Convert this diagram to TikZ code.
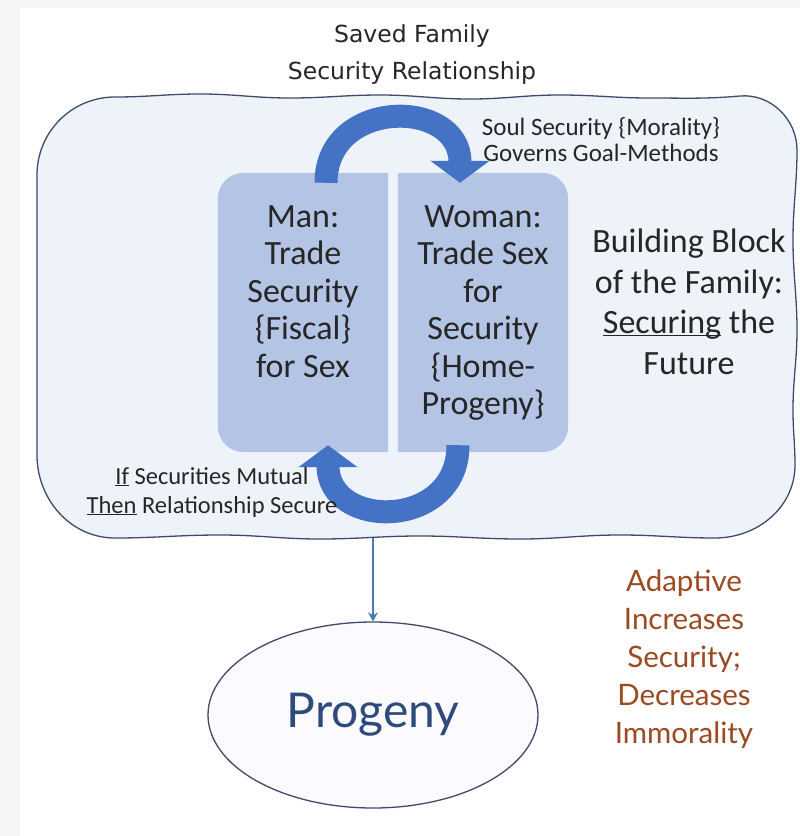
\documentclass[tikz,border=0pt]{standalone}
\usepackage{fontspec}
\setmainfont{Carlito}
\newfontfamily\gillfont{Lato}
\newfontfamily\comicfont{DejaVu Sans}
\usetikzlibrary{arrows.meta,shapes.geometric}

\definecolor{cloudfill}{HTML}{EEF2F9}
\definecolor{cloudline}{HTML}{3E4B6B}
\definecolor{boxfill}{HTML}{B4C4E4}
\definecolor{arcblue}{HTML}{4472C4}
\definecolor{progblue}{HTML}{2F4B7C}
\definecolor{rust}{HTML}{9C4A22}
\definecolor{textgray}{HTML}{262626}
\definecolor{linkblue}{HTML}{4A79B5}

\newcommand{\undl}[1]{\underline{\smash{#1}}}

\tikzset{
  boxtext/.style={align=center, inner sep=0pt, text=textgray, font=\fontsize{34}{37.5}\selectfont},
  sidetext/.style={align=center, inner sep=0pt, text=textgray, font=\fontsize{34}{40.5}\selectfont},
  bigarc/.style={arcblue, line width=23pt, -{Triangle[width=58pt,length=22pt]}},
  linkarrow/.style={linkblue, line width=2pt, -{Stealth[length=9pt,width=10pt]}}
}

\begin{document}
\begin{tikzpicture}[x=1pt,y=-1pt]
  \useasboundingbox (0,0) rectangle (800,836);
  \fill[gray!8] (0,0) rectangle (800,836);
  \fill[white] (20,8) rectangle (800,836);

  % title
  \node[align=center, inner sep=0pt, anchor=north, text=textgray,
        font=\comicfont\fontsize{23.5}{37}\selectfont] (title) at (412,24)
        {Saved Family\\Security Relationship};

  % wavy frame
  \draw[cloudline, fill=cloudfill, line width=1.3pt]
    (37,175) to[out=90,in=180] (115,97)
    to[out=0,in=180] (200,94) to[out=0,in=180] (290,98) to[out=0,in=180] (380,95)
    to[out=0,in=180] (470,99) to[out=0,in=180] (560,95) to[out=0,in=180] (650,98)
    to[out=0,in=185] (740,96) to[out=5,in=90] (797,150)
    to[out=-90,in=90] (793,240) to[out=-90,in=90] (797,330) to[out=-90,in=90] (793,410)
    to[out=-90,in=90] (795,465) to[out=-90,in=0] (715,538)
    to[out=180,in=0] (620,535) to[out=180,in=0] (520,539) to[out=180,in=0] (420,536)
    to[out=180,in=0] (320,539) to[out=180,in=0] (220,535) to[out=180,in=0] (115,538)
    to[out=180,in=-90] (37,455) -- cycle;
  \coordinate (cloudbot) at (373,538);

  % the two boxes
  \node[minimum width=170pt, minimum height=279pt, inner sep=0pt] (man) at (303,312.5) {};
  \node[minimum width=170pt, minimum height=279pt, inner sep=0pt] (woman) at (483,312.5) {};
  \fill[boxfill] (man.north east) [rounded corners=26pt] -- (man.north west)
    -- (man.south west) [sharp corners] -- (man.south east) -- cycle;
  \fill[boxfill] (woman.north west) [rounded corners=26pt] -- (woman.north east)
    -- (woman.south east) [sharp corners] -- (woman.south west) -- cycle;
  \node[boxtext, anchor=north] (mantext) at (303,205)
    {Man:\\Trade\\Security\\\{Fiscal\}\\for Sex};
  \node[boxtext, anchor=north] (womantext) at (483,205)
    {Woman:\\Trade Sex\\for\\Security\\\{Home-\\Progeny\}};

  % arcs
  \draw[bigarc] ([xshift=23pt,yshift=-10pt]man.north) .. controls +(0,-85) and +(0,-85)
    .. ([xshift=-23pt,yshift=-10pt]woman.north);
  \draw[bigarc] ([xshift=-25pt,yshift=7pt]woman.south) .. controls +(0,85) and +(0,85)
    .. ([xshift=25pt,yshift=7pt]man.south);

  \node[align=center, inner sep=0pt, anchor=north, text=textgray,
        font=\fontsize{25}{26}\selectfont] (soul) at (601,117)
    {Soul Security \{Morality\}\\Governs Goal-Methods};
  \node[align=center, inner sep=0pt, anchor=north, text=textgray,
        font=\fontsize{24.5}{29}\selectfont] (ifthen) at (212,467)
    {\undl{If} Securities Mutual\\\undl{Then} Relationship Secure};
  \node[sidetext, anchor=north] (block) at (689,229)
    {Building Block\\of the Family:\\\undl{Securing} the\\Future};

  % progeny
  \node[ellipse, draw=cloudline, line width=1.3pt, fill=blue!2, minimum width=330pt,
        minimum height=186pt, text=progblue, font=\gillfont\fontsize{48}{56}\selectfont]
        (progeny) at (373,715) {Progeny};
  \draw[linkarrow] (cloudbot) -- (progeny.north);

  \node[align=center, inner sep=0pt, anchor=north, text=rust,
        font=\gillfont\fontsize{29.5}{38}\selectfont] (adaptive) at (684,570)
        {Adaptive\\Increases\\Security;\\Decreases\\Immorality};
\end{tikzpicture}
\end{document}
